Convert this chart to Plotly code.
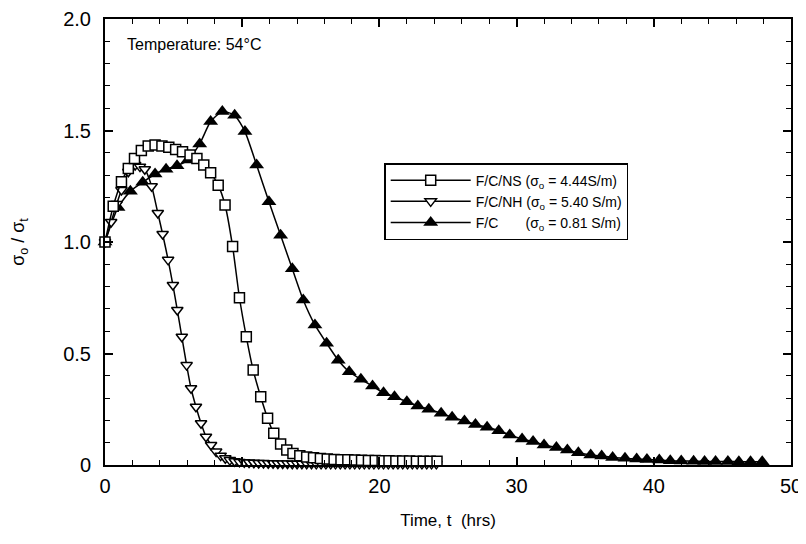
import plotly.graph_objects as go

# ---- data ----
t_ns = [0, 0.6, 1.2, 1.7, 2.15, 2.65, 3.15, 3.65, 4.15, 4.65, 5.15, 5.65, 6.2, 6.7, 7.2, 7.7, 8.25, 8.75, 9.3, 9.8,
        10.3, 10.8, 11.35, 11.85, 12.3, 12.8, 13.25, 13.7, 14.2, 14.7, 15.2, 15.7, 16.2, 16.7, 17.2, 17.7, 18.2, 18.7,
        19.2, 19.7, 20.2, 20.7, 21.2, 21.7, 22.2, 22.7, 23.2, 23.7, 24.2]
y_ns = [1.0, 1.16, 1.27, 1.33, 1.375, 1.41, 1.43, 1.435, 1.43, 1.425, 1.415, 1.405, 1.39, 1.375, 1.345, 1.31, 1.255,
        1.166, 0.98, 0.75, 0.575, 0.426, 0.306, 0.21, 0.142, 0.094, 0.067, 0.052, 0.042, 0.036, 0.032, 0.029, 0.027,
        0.025, 0.024, 0.023, 0.022, 0.021, 0.020, 0.020, 0.019, 0.019, 0.018, 0.018, 0.018, 0.017, 0.017, 0.017, 0.017]

t_nh = [0, 0.45, 0.85, 1.2, 1.7, 2.2, 2.55, 2.9, 3.4, 3.85, 4.2, 4.6, 4.95, 5.27, 5.6, 5.95, 6.27, 6.63, 7.0, 7.36,
        7.73, 8.1, 8.43, 8.77, 9.1, 9.45, 9.8, 10.15, 10.5, 10.85, 11.2, 11.55, 11.9, 12.25, 12.6, 12.95, 13.3, 13.65,
        14.0, 14.35, 14.7, 15.05, 15.4, 15.75, 16.1, 16.45, 16.8, 17.15, 17.5, 17.85, 18.2, 18.55, 18.9, 19.25, 19.6,
        19.95, 20.3, 20.65, 21.0, 21.35, 21.7, 22.05, 22.4, 22.75, 23.1, 23.45, 23.8, 24.15]
y_nh = [1.0, 1.09, 1.17, 1.233, 1.315, 1.345, 1.338, 1.326, 1.25, 1.13, 1.036, 0.92, 0.807, 0.695, 0.575, 0.448,
        0.344, 0.261, 0.187, 0.127, 0.09, 0.06, 0.042, 0.03, 0.022, 0.017, 0.014, 0.012, 0.011, 0.010, 0.009, 0.009,
        0.008, 0.008, 0.007, 0.007, 0.007, 0.006, 0.006, 0.006, 0.006, 0.006, 0.005, 0.005, 0.005, 0.005, 0.005,
        0.005, 0.005, 0.005, 0.005, 0.005, 0.005, 0.005, 0.005, 0.005, 0.005, 0.005, 0.005, 0.005, 0.005, 0.005,
        0.005, 0.005, 0.005, 0.005, 0.005, 0.005]

t_fc = [0, 0.95, 1.85, 2.75, 3.65, 4.45, 5.25, 6.05, 6.9, 7.7, 8.55, 9.45, 10.2, 11.05, 11.95, 12.8, 13.65, 14.45,
        15.3, 16.15, 17.0, 17.8, 18.65, 19.5, 20.3, 21.1, 22.0, 22.8, 23.6, 24.5, 25.3, 26.2, 27.0, 27.85, 28.7, 29.5,
        30.4, 31.2, 32.0, 32.9, 33.7, 34.5, 35.4, 36.2, 37.0, 37.9, 38.75, 39.5, 40.4, 41.2, 42.0, 42.9, 43.7, 44.5,
        45.4, 46.2, 47.05, 47.9]
y_fc = [1.0, 1.155, 1.228, 1.268, 1.305, 1.326, 1.342, 1.368, 1.44, 1.54, 1.585, 1.568, 1.495, 1.345, 1.18, 1.03,
        0.88, 0.74, 0.628, 0.546, 0.47, 0.418, 0.384, 0.354, 0.324, 0.306, 0.284, 0.265, 0.25, 0.232, 0.214, 0.197,
        0.182, 0.169, 0.154, 0.135, 0.117, 0.105, 0.09, 0.079, 0.067, 0.055, 0.045, 0.04, 0.034, 0.03, 0.027, 0.025,
        0.022, 0.019, 0.018, 0.017, 0.016, 0.016, 0.016, 0.015, 0.015, 0.015]

names = ["F/C/NS (σ<sub>o</sub> = 4.44S/m)",
         "F/C/NH (σ<sub>o</sub> = 5.40 S/m)",
         "F/C\u00a0\u00a0\u00a0\u00a0\u00a0\u00a0\u00a0(σ<sub>o</sub> = 0.81 S/m)"]

x_ticks = [0, 10, 20, 30, 40, 50]
x_ticklabels = ["0", "10", "20", "30", "40", "50"]
y_ticks = [0, 0.5, 1.0, 1.5, 2.0]
y_ticklabels = ["0", "0.5", "1.0", "1.5", "2.0"]

FONT = "Liberation Sans, Arial, Helvetica, sans-serif"

fig = go.Figure()
fig.add_trace(go.Scatter(
    x=t_fc, y=y_fc, name=names[2], mode="lines+markers", cliponaxis=False,
    line=dict(color="black", width=1.5, shape="spline", smoothing=0.6),
    marker=dict(symbol="triangle-up", size=13, color="black", line=dict(color="black", width=0)),
))
fig.add_trace(go.Scatter(
    x=t_nh, y=y_nh, name=names[1], mode="lines+markers", cliponaxis=False,
    line=dict(color="black", width=1.5, shape="spline", smoothing=0.6),
    marker=dict(symbol="triangle-down", size=10, color="white", line=dict(color="black", width=1.5)),
))
fig.add_trace(go.Scatter(
    x=t_ns, y=y_ns, name=names[0], mode="lines+markers", cliponaxis=False,
    line=dict(color="black", width=1.5, shape="spline", smoothing=0.6),
    marker=dict(symbol="square", size=10, color="white", line=dict(color="black", width=1.5)),
))

axis_common = dict(
    showline=True, linecolor="black", linewidth=2, mirror="allticks",
    ticks="inside", ticklen=8, tickwidth=1.5, tickcolor="black",
    showgrid=False, zeroline=False, automargin=False,
    tickfont=dict(family=FONT, size=20, color="black"),
)

fig.update_xaxes(
    range=[0, 50], tickmode="array", tickvals=x_ticks, ticktext=x_ticklabels,
    minor=dict(ticks="inside", dtick=2, ticklen=5, tickwidth=1.2, tickcolor="black", showgrid=False),
    title=dict(text="Time, t\u00a0\u00a0(hrs)", font=dict(family=FONT, size=17, color="black"), standoff=18),
    ticklabelstandoff=2,
    **axis_common,
)
fig.update_yaxes(
    range=[0, 2], tickmode="array", tickvals=y_ticks, ticktext=y_ticklabels,
    minor=dict(ticks="inside", dtick=0.1, ticklen=5, tickwidth=1.2, tickcolor="black", showgrid=False),
    title=dict(text="σ<sub>o</sub> / σ<sub>t</sub>", font=dict(family=FONT, size=18, color="black"), standoff=42),
    ticklabelstandoff=8,
    **axis_common,
)

fig.add_annotation(
    x=1.45, y=1.885, xref="x", yref="y", xanchor="left", yanchor="middle",
    text="Temperature: 54°C", showarrow=False,
    font=dict(family=FONT, size=16, color="black"),
)

# the page body adds an 8 px offset; margins compensate so the plot area sits where the reference has it
fig.update_layout(
    width=806, height=544,
    margin=dict(l=97, r=23, t=11, b=87),
    paper_bgcolor="white", plot_bgcolor="white",
    font=dict(family=FONT, color="black"),
    showlegend=True,
    legend=dict(
        x=0.407, y=0.677, xanchor="left", yanchor="top",
        traceorder="reversed",
        bgcolor="white", bordercolor="black", borderwidth=1.5,
        font=dict(family=FONT, size=14, color="black"),
        itemwidth=80, tracegroupgap=0,
    ),
)

fig.write_html("out.html")
